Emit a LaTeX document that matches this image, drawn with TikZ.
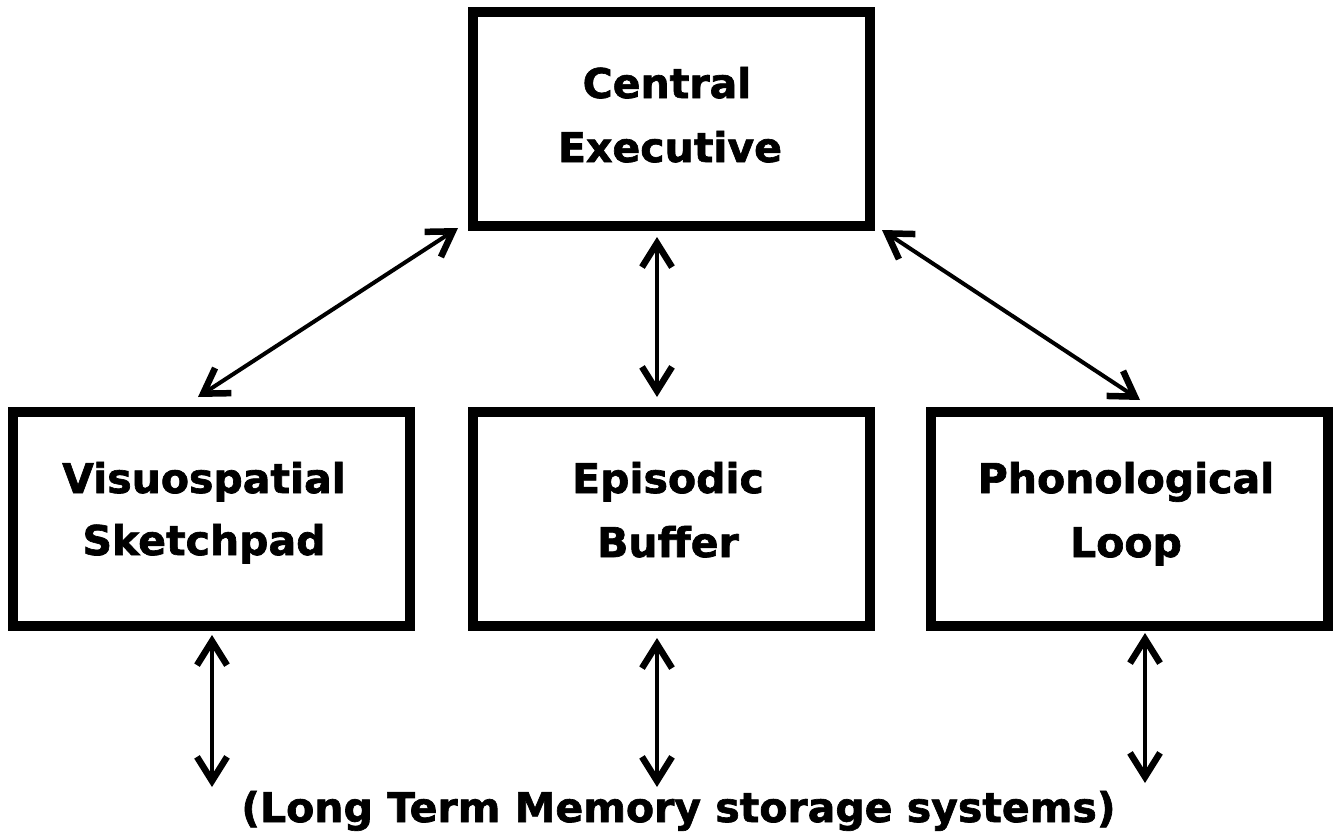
\documentclass[tikz,border=0pt]{standalone}
\usepackage{fontspec}
\setmainfont{DejaVu Sans}
\newfontfamily\heavy[FakeBold=1.6]{DejaVu Sans Bold}
\usetikzlibrary{arrows.meta}
\begin{document}
\begin{tikzpicture}[x=1pt,y=-1pt,
  box/.style={draw, line width=10pt, minimum width=397pt, minimum height=214pt, inner sep=0pt, outer sep=0pt},
  lbl/.style={font=\fontsize{41}{50}\selectfont\heavy, inner sep=0pt, anchor=base},
  tip/.style={Straight Barb[length=24pt,width=30pt,line width=6.5pt]},
  conn/.style={line width=4pt, {Straight Barb[length=24pt,width=30pt,line width=6.5pt]}-{Straight Barb[length=24pt,width=30pt,line width=6.5pt]}}]
\useasboundingbox (0,0) rectangle (1340,835);
\fill[white] (0,0) rectangle (1340,835);
% boxes
\node[box] (ce) at (671.5,119) {};
\node[box] (vs) at (211,519) {};
\node[box] (eb) at (671.5,519) {};
\node[box] (pl) at (1129,519) {};
% texts
\node[lbl] (ce1) at (667,98) {Central};
\node[lbl] (ce2) at (670,162) {Executive};
\node[lbl] (vs1) at (204,493) {Visuospatial};
\node[lbl] (vs2) at (204,555) {Sketchpad};
\node[lbl] (eb1) at (668,493) {Episodic};
\node[lbl] (eb2) at (668,557) {Buffer};
\node[lbl] (pl1) at (1126,493) {Phonological};
\node[lbl] (pl2) at (1126,557) {Loop};
\node[lbl] (ltm) at (678.5,822) {(Long Term Memory storage systems)};
% free ends above the bottom text
\coordinate (m1) at (212,787);
\coordinate (m2) at (657,787);
\coordinate (m3) at (1145,783);
% connectors
\draw[conn] ([shift={(-15,2)}]ce.south west) -- ([shift={(-13,-15)}]vs.north);
\draw[conn] ([shift={(-14.5,11)}]ce.south) -- ([shift={(-14.5,-15)}]eb.north);
\draw[conn] ([shift={(12,4)}]ce.south east) -- ([shift={(11,-12)}]pl.north);
\draw[conn] ([shift={(1,9)}]vs.south) -- (m1);
\draw[conn] ([shift={(-14.5,12)}]eb.south) -- (m2);
\draw[conn] ([shift={(16,7)}]pl.south) -- (m3);
\end{tikzpicture}
\end{document}
